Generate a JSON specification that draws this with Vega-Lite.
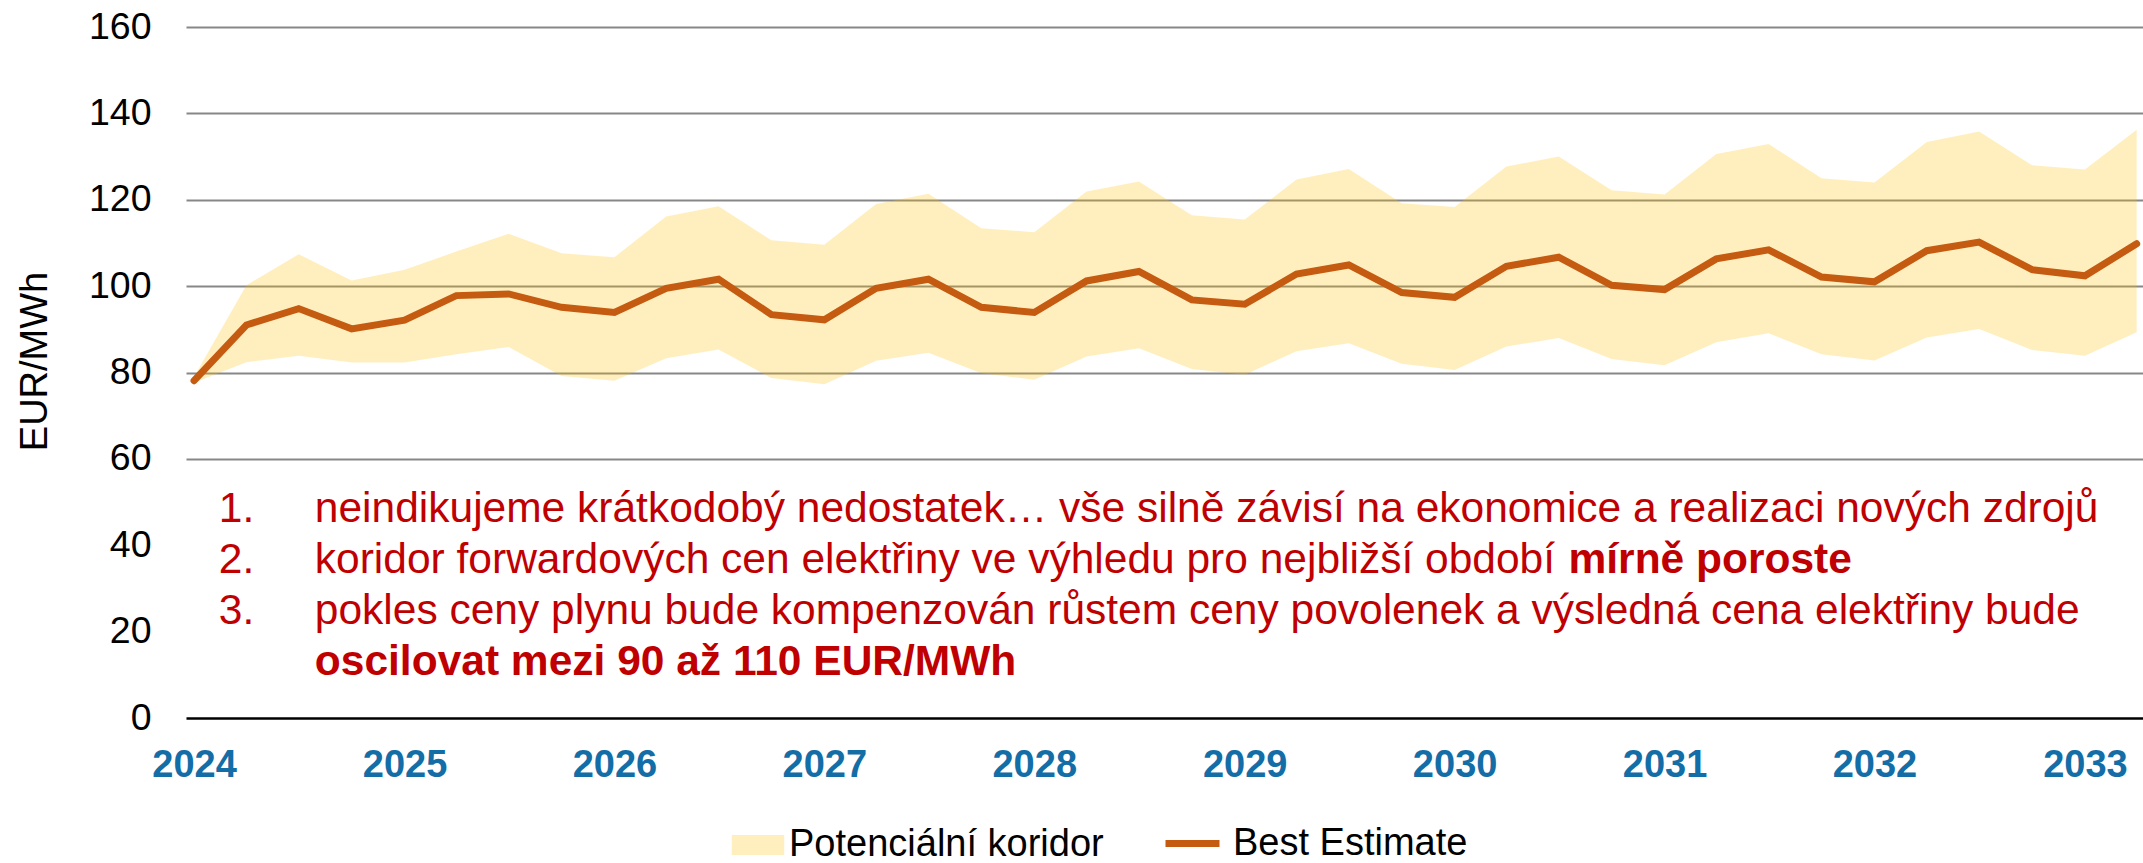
{
  "$schema": "https://vega.github.io/schema/vega-lite/v6.json",
  "width": 1957,
  "height": 691,
  "autosize": "none",
  "padding": {"left": 186, "top": 27, "right": 0, "bottom": 145},
  "background": "white",
  "config": {
    "font": "Liberation Sans",
    "view": {"stroke": null}
  },
  "data": {
    "values": [
      {"date": "2024-01-01", "best": 78.1, "lower": 77.6, "upper": 79.0},
      {"date": "2024-04-01", "best": 91.0, "lower": 82.4, "upper": 100.2},
      {"date": "2024-07-01", "best": 94.8, "lower": 83.9, "upper": 107.4},
      {"date": "2024-10-01", "best": 90.1, "lower": 82.3, "upper": 101.3},
      {"date": "2025-01-01", "best": 92.1, "lower": 82.3, "upper": 103.8},
      {"date": "2025-04-01", "best": 97.8, "lower": 84.2, "upper": 108.0},
      {"date": "2025-07-01", "best": 98.2, "lower": 85.9, "upper": 112.1},
      {"date": "2025-10-01", "best": 95.1, "lower": 79.2, "upper": 107.6},
      {"date": "2026-01-01", "best": 93.9, "lower": 78.1, "upper": 106.7},
      {"date": "2026-04-01", "best": 99.5, "lower": 83.3, "upper": 116.1},
      {"date": "2026-07-01", "best": 101.6, "lower": 85.3, "upper": 118.5},
      {"date": "2026-10-01", "best": 93.4, "lower": 78.7, "upper": 110.6},
      {"date": "2027-01-01", "best": 92.2, "lower": 77.3, "upper": 109.6},
      {"date": "2027-04-01", "best": 99.5, "lower": 82.7, "upper": 119.0},
      {"date": "2027-07-01", "best": 101.6, "lower": 84.6, "upper": 121.4},
      {"date": "2027-10-01", "best": 95.1, "lower": 79.8, "upper": 113.4},
      {"date": "2028-01-01", "best": 93.9, "lower": 78.3, "upper": 112.5},
      {"date": "2028-04-01", "best": 101.2, "lower": 83.7, "upper": 121.9},
      {"date": "2028-07-01", "best": 103.4, "lower": 85.6, "upper": 124.2},
      {"date": "2028-10-01", "best": 96.8, "lower": 80.8, "upper": 116.4},
      {"date": "2029-01-01", "best": 95.8, "lower": 79.5, "upper": 115.4},
      {"date": "2029-04-01", "best": 102.8, "lower": 84.9, "upper": 124.7},
      {"date": "2029-07-01", "best": 104.9, "lower": 86.8, "upper": 127.1},
      {"date": "2029-10-01", "best": 98.5, "lower": 82.0, "upper": 119.2},
      {"date": "2030-01-01", "best": 97.4, "lower": 80.6, "upper": 118.3},
      {"date": "2030-04-01", "best": 104.6, "lower": 86.0, "upper": 127.7},
      {"date": "2030-07-01", "best": 106.7, "lower": 88.0, "upper": 130.0},
      {"date": "2030-10-01", "best": 100.2, "lower": 83.1, "upper": 122.2},
      {"date": "2031-01-01", "best": 99.2, "lower": 81.7, "upper": 121.2},
      {"date": "2031-04-01", "best": 106.3, "lower": 87.0, "upper": 130.6},
      {"date": "2031-07-01", "best": 108.4, "lower": 89.1, "upper": 132.9},
      {"date": "2031-10-01", "best": 102.1, "lower": 84.2, "upper": 125.0},
      {"date": "2032-01-01", "best": 101.0, "lower": 82.8, "upper": 124.0},
      {"date": "2032-04-01", "best": 108.2, "lower": 88.1, "upper": 133.4},
      {"date": "2032-07-01", "best": 110.2, "lower": 90.1, "upper": 135.8},
      {"date": "2032-10-01", "best": 103.8, "lower": 85.2, "upper": 128.0},
      {"date": "2033-01-01", "best": 102.4, "lower": 83.9, "upper": 127.0},
      {"date": "2033-04-01", "best": 109.8, "lower": 89.3, "upper": 136.2}
    ]
  },
  "layer": [
    {
      "mark": {"type": "area", "fillOpacity": 0.25},
      "encoding": {
        "x": {
          "field": "date",
          "type": "temporal",
          "scale": {
            "type": "utc",
            "domain": [
              {"year": 2023, "month": 12, "date": 18, "utc": true},
              {"year": 2033, "month": 4, "date": 12, "utc": true}
            ]
          },
          "axis": {
            "title": null,
            "values": [
              {"year": 2024, "month": 1, "date": 1, "utc": true},
              {"year": 2025, "month": 1, "date": 1, "utc": true},
              {"year": 2026, "month": 1, "date": 1, "utc": true},
              {"year": 2027, "month": 1, "date": 1, "utc": true},
              {"year": 2028, "month": 1, "date": 1, "utc": true},
              {"year": 2029, "month": 1, "date": 1, "utc": true},
              {"year": 2030, "month": 1, "date": 1, "utc": true},
              {"year": 2031, "month": 1, "date": 1, "utc": true},
              {"year": 2032, "month": 1, "date": 1, "utc": true},
              {"year": 2033, "month": 1, "date": 1, "utc": true}
            ],
            "format": "%Y",
            "grid": false,
            "ticks": false,
            "tickSize": 0,
            "labelFlush": false,
            "labelOverlap": false,
            "labelPadding": 28,
            "labelFont": "Liberation Sans",
            "labelFontSize": 38,
            "labelFontWeight": "bold",
            "labelColor": "#136DA6",
            "domainColor": "#000000",
            "domainWidth": 2.5
          }
        },
        "y": {
          "field": "lower",
          "type": "quantitative",
          "scale": {"domain": [0, 160], "nice": false, "zero": true},
          "axis": {
            "title": "EUR/MWh",
            "titleFont": "Liberation Sans",
            "titleFontSize": 38,
            "titleFontWeight": "normal",
            "titleColor": "#000000",
            "titlePadding": 34,
            "titleY": 334,
            "values": [0, 20, 40, 60, 80, 100, 120, 140, 160],
            "labelFont": "Liberation Sans",
            "labelFontSize": 37.5,
            "labelColor": "#000000",
            "labelPadding": 35,
            "ticks": false,
            "tickSize": 0,
            "domain": false,
            "grid": true,
            "gridColor": "#878787",
            "gridWidth": 2,
            "gridOpacity": {"condition": {"test": "datum.value === 20 || datum.value === 40 || datum.value === 0", "value": 0}, "value": 1}
          }
        },
        "y2": {"field": "upper"},
        "fill": {
          "datum": "Potenciální koridor",
          "type": "nominal",
          "scale": {"range": ["#FFC000"]},
          "legend": {
            "title": null,
            "orient": "none",
            "direction": "horizontal",
            "legendX": 545,
            "legendY": 791,
            "padding": 0,
            "symbolType": "M-0.972,-0.37H0.972V0.37H-0.972Z",
            "symbolSize": 2916,
            "symbolOpacity": 0.25,
            "symbolStrokeWidth": 0,
            "labelFont": "Liberation Sans",
            "labelFontSize": 38,
            "labelColor": "#000000",
            "labelLimit": 0,
            "labelOffset": 4
          }
        }
      }
    },
    {
      "mark": {"type": "line", "strokeWidth": 7, "strokeCap": "round", "strokeJoin": "miter"},
      "encoding": {
        "x": {"field": "date", "type": "temporal"},
        "y": {"field": "best", "type": "quantitative"},
        "stroke": {
          "datum": "Best Estimate",
          "type": "nominal",
          "scale": {"range": ["#C55A11"]},
          "legend": {
            "title": null,
            "orient": "none",
            "direction": "horizontal",
            "legendX": 976,
            "legendY": 786,
            "padding": 0,
            "symbolType": "stroke",
            "symbolSize": 2916,
            "symbolStrokeWidth": 7,
            "symbolOpacity": 1,
            "labelFont": "Liberation Sans",
            "labelFontSize": 38,
            "labelColor": "#000000",
            "labelLimit": 0,
            "labelOffset": 10
          }
        }
      }
    },
    {
      "data": {"values": [{"note": ["1.", "2.", "3."]}]},
      "mark": {"type": "text", "align": "left", "baseline": "alphabetic", "font": "Liberation Sans", "fontSize": 42.5, "lineHeight": 51, "fill": "#C00000"},
      "encoding": {
        "x": {"datum": {"year": 2024, "month": 2, "date": 13, "utc": true}, "type": "temporal"},
        "y": {"datum": 45.27, "type": "quantitative"},
        "text": {"field": "note", "type": "nominal"}
      }
    },
    {
      "data": {"values": [{"note": ["neindikujeme krátkodobý nedostatek… vše silně závisí na ekonomice a realizaci nových zdrojů", "koridor forwardových cen elektřiny ve výhledu pro nejbližší období", "pokles ceny plynu bude kompenzován růstem ceny povolenek a výsledná cena elektřiny bude"]}]},
      "mark": {"type": "text", "align": "left", "baseline": "alphabetic", "font": "Liberation Sans", "fontSize": 42.5, "lineHeight": 51, "fill": "#C00000"},
      "encoding": {
        "x": {"datum": {"year": 2024, "month": 7, "date": 29, "utc": true}, "type": "temporal"},
        "y": {"datum": 45.27, "type": "quantitative"},
        "text": {"field": "note", "type": "nominal"}
      }
    },
    {
      "data": {"values": [{"note": "mírně poroste"}]},
      "mark": {"type": "text", "align": "left", "baseline": "alphabetic", "font": "Liberation Sans", "fontSize": 42.5, "fontWeight": "bold", "fill": "#C00000"},
      "encoding": {
        "x": {"datum": {"year": 2030, "month": 7, "date": 18, "utc": true}, "type": "temporal"},
        "y": {"datum": 33.69, "type": "quantitative"},
        "text": {"field": "note", "type": "nominal"}
      }
    },
    {
      "data": {"values": [{"note": "oscilovat mezi 90 až 110 EUR/MWh"}]},
      "mark": {"type": "text", "align": "left", "baseline": "alphabetic", "font": "Liberation Sans", "fontSize": 42.5, "fontWeight": "bold", "fill": "#C00000"},
      "encoding": {
        "x": {"datum": {"year": 2024, "month": 7, "date": 29, "utc": true}, "type": "temporal"},
        "y": {"datum": 10.07, "type": "quantitative"},
        "text": {"field": "note", "type": "nominal"}
      }
    }
  ]
}
